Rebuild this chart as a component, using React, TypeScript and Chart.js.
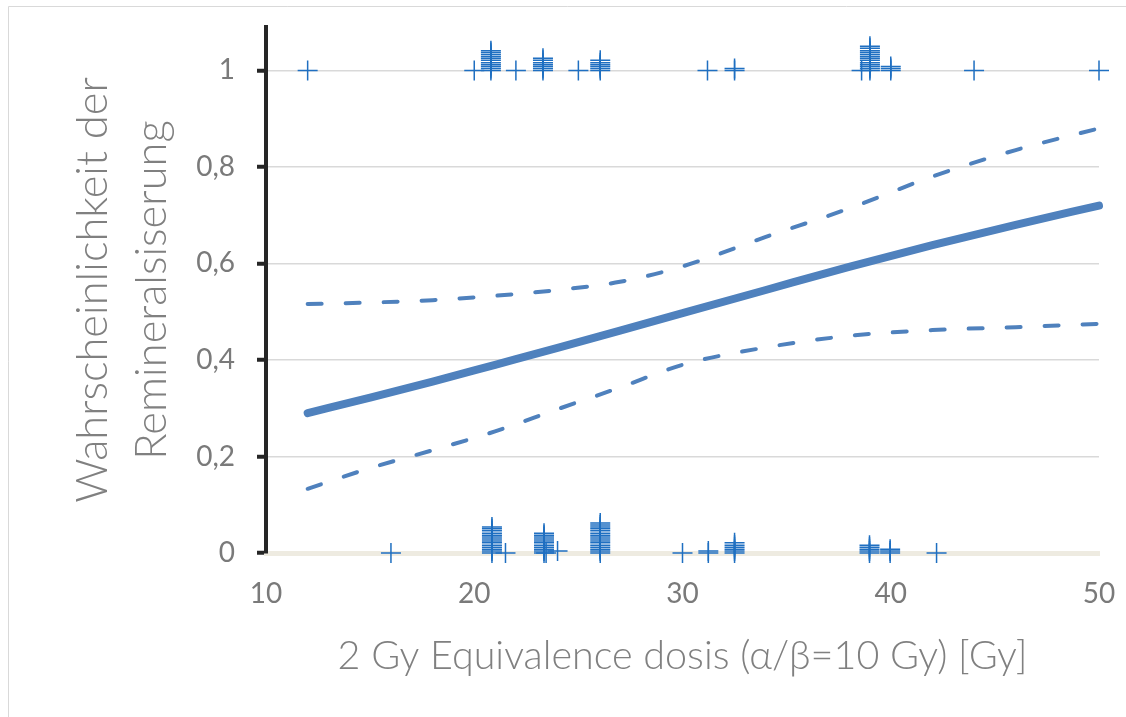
import React, { useEffect, useRef } from 'react';
import { Chart, registerables } from 'chart.js';

Chart.register(...registerables);

// Fitted curve (probability of remineralisation vs. dose)
const curveX = [12, 15, 18, 21, 24, 27, 30, 34, 38, 42, 46, 50];
const fitP = [0.29, 0.322, 0.355, 0.39, 0.425, 0.461, 0.497, 0.545, 0.593, 0.638, 0.68, 0.72];
const upperCI = [0.516, 0.519, 0.524, 0.533, 0.545, 0.562, 0.594, 0.655, 0.714, 0.78, 0.835, 0.88];
const lowerCI = [0.133, 0.176, 0.213, 0.252, 0.298, 0.343, 0.39, 0.426, 0.45, 0.462, 0.468, 0.475];

// Observed outcomes (1 = remineralised), stacked markers
const topX = [
  12, 20,
  20.8, 20.8, 20.8, 20.8, 20.8, 20.8, 20.8, 20.8, 20.8, 20.8, 20.8,
  22,
  23.3, 23.3, 23.3, 23.3, 23.3, 23.3, 23.3,
  25,
  26.05, 26.05, 26.05, 26.05, 26.05, 26.05,
  31.2,
  32.5, 32.5,
  38.6,
  39, 39, 39, 39, 39, 39, 39, 39, 39, 39, 39, 39, 39,
  40, 40, 40,
  44, 50,
];
const topY = [
  1, 1,
  1, 1.004, 1.008, 1.012, 1.016, 1.021, 1.025, 1.029, 1.033, 1.037, 1.041,
  1,
  1, 1.004, 1.008, 1.012, 1.016, 1.021, 1.025,
  1,
  1, 1.004, 1.008, 1.012, 1.016, 1.021,
  1,
  1, 1.004,
  1,
  1, 1.004, 1.008, 1.012, 1.016, 1.021, 1.025, 1.029, 1.033, 1.037, 1.041, 1.046, 1.05,
  1, 1.004, 1.008,
  1, 1,
];
// Observed outcomes (0 = not remineralised)
const bottomX = [
  16,
  20.85, 20.85, 20.85, 20.85, 20.85, 20.85, 20.85, 20.85, 20.85, 20.85, 20.85, 20.85, 20.85, 20.85,
  21.5,
  23.35, 23.35, 23.35, 23.35, 23.35, 23.35, 23.35, 23.35, 23.35, 23.35, 23.35,
  23.45, 24,
  26.05, 26.05, 26.05, 26.05, 26.05, 26.05, 26.05, 26.05, 26.05, 26.05, 26.05, 26.05, 26.05, 26.05, 26.05, 26.05,
  30,
  31.24, 31.24,
  32.5, 32.5, 32.5, 32.5, 32.5, 32.5,
  38.98, 38.98, 38.98, 38.98, 38.98,
  39.97, 39.97, 39.97,
  42.2,
];
const bottomY = [
  0,
  0, 0.004, 0.008, 0.012, 0.016, 0.021, 0.025, 0.029, 0.033, 0.037, 0.041, 0.046, 0.05, 0.054,
  0,
  0, 0.004, 0.008, 0.012, 0.016, 0.021, 0.025, 0.029, 0.033, 0.037, 0.041,
  0, 0.004,
  0, 0.004, 0.008, 0.012, 0.016, 0.021, 0.025, 0.029, 0.033, 0.037, 0.041, 0.046, 0.05, 0.054, 0.058, 0.062,
  0,
  0, 0.004,
  0, 0.004, 0.008, 0.012, 0.016, 0.021,
  0, 0.004, 0.008, 0.012, 0.016,
  0, 0.004, 0.008,
  0,
];

const xTicks = [10, 20, 30, 40, 50];
const yTicks = [0, 0.2, 0.4, 0.6, 0.8, 1];

const xTitle = '2 Gy Equivalence dosis (\u03B1/\u03B2=10 Gy) [Gy]';
const yTitle = ['Wahrscheinlichkeit der', 'Remineralsiserung'];

const LINE = '#4f81bd';
const MARK = '#1f6fc1';
const FONT = 'Lato';

const framePlugin = {
  id: 'frame',
  beforeDraw(chart: any) {
    const ctx = chart.ctx;
    ctx.save();
    ctx.fillStyle = '#ffffff';
    ctx.fillRect(0, 0, chart.width, chart.height);
    ctx.strokeStyle = '#d9d9d9';
    ctx.lineWidth = 1;
    ctx.beginPath();
    ctx.moveTo(8.5, chart.height);
    ctx.lineTo(8.5, 6.5);
    ctx.lineTo(chart.width, 6.5);
    ctx.stroke();
    ctx.restore();
  },
};

export default function App() {
  const ref = useRef<HTMLCanvasElement>(null);
  useEffect(() => {
    document.body.style.margin = '0';
    const canvas = ref.current!;
    const pts = (xs: number[], ys: number[]) => xs.map((x, i) => ({ x, y: ys[i] }));
    const marker = (label: string, xs: number[], ys: number[]) => ({
      label,
      data: pts(xs, ys),
      showLine: false,
      pointStyle: 'cross',
      pointRadius: 10,
      pointHoverRadius: 10,
      pointBorderWidth: 1.5,
      pointBorderColor: MARK,
      pointBackgroundColor: MARK,
      clip: false,
    });
    const curve = (label: string, ys: number[], width: number, dash: number[]) => ({
      label,
      data: pts(curveX, ys),
      showLine: true,
      pointRadius: 0,
      pointHoverRadius: 0,
      borderColor: LINE,
      borderWidth: width,
      borderDash: dash,
      borderCapStyle: 'round',
      borderJoinStyle: 'round',
      cubicInterpolationMode: 'monotone',
      clip: false,
    });
    const chart = new Chart(canvas, {
      type: 'scatter',
      data: {
        datasets: [
          marker('obs1', topX, topY),
          marker('obs0', bottomX, bottomY),
          curve('upper', upperCI, 4, [14, 24]),
          curve('lower', lowerCI, 4, [14, 24]),
          curve('fit', fitP, 8, []),
        ] as any,
      },
      options: {
        responsive: false,
        animation: false,
        devicePixelRatio: 1,
        layout: { autoPadding: false, padding: { top: 27, right: 27, left: 0, bottom: 0 } },
        plugins: { legend: { display: false }, tooltip: { enabled: false } },
        scales: {
          x: {
            type: 'linear',
            min: 10,
            max: 50,
            afterFit: (s: any) => {
              s.height = 164;
              s.paddingLeft = 0;
              s.paddingRight = 0;
            },
            afterBuildTicks: (s: any) => { s.ticks = xTicks.map((v) => ({ value: v })); },
            grid: { display: false, drawTicks: false },
            border: { display: true, color: '#eeebe1', width: 5 },
            ticks: {
              padding: 24,
              color: '#7a7a7a',
              font: { family: FONT, size: 28 },
              maxRotation: 0,
            },
            title: {
              display: true,
              text: xTitle,
              color: '#808080',
              font: { family: FONT, size: 39.5, weight: '300' as any },
              padding: { top: 0, bottom: 37 },
            },
          },
          y: {
            type: 'linear',
            min: 0,
            max: 1.09,
            afterFit: (s: any) => {
              s.width = 266;
              s.paddingTop = 0;
              s.paddingBottom = 0;
            },
            afterBuildTicks: (s: any) => { s.ticks = yTicks.map((v) => ({ value: v })); },
            grid: {
              color: (c: any) => (c.tick && c.tick.value === 0 ? 'rgba(0,0,0,0)' : '#d9d9d9'),
              lineWidth: 1.5,
              tickLength: 9,
              tickColor: '#262626',
              tickWidth: 4,
            },
            border: { display: true, color: '#262626', width: 4 },
            ticks: {
              padding: 22,
              color: '#7a7a7a',
              font: { family: FONT, size: 28 },
              callback: (v: any) => String(Math.round(Number(v) * 10) / 10).replace('.', ','),
            },
            title: {
              display: true,
              text: yTitle,
              color: '#808080',
              font: { family: FONT, size: 43.5, weight: '300' as any, lineHeight: 1.36 },
              padding: { top: 63, bottom: 0 },
            },
          },
        },
      },
      plugins: [framePlugin],
    });
    return () => chart.destroy();
  }, []);
  return (
    <div style={{ width: 1126, height: 717 }}>
      <canvas ref={ref} width={1126} height={717} style={{ display: 'block' }} />
    </div>
  );
}
